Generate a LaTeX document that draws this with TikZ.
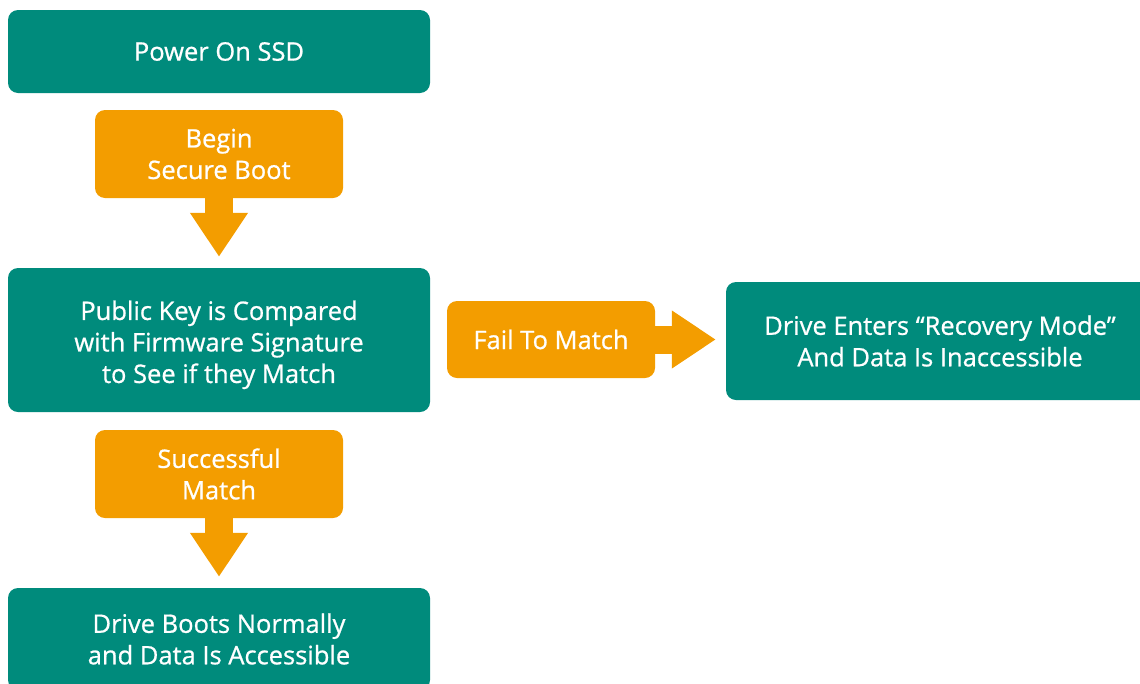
\documentclass[tikz,border=0pt]{standalone}
\usepackage{fontspec}
\setmainfont[FakeBold=0.8]{Open Sans}
\usetikzlibrary{arrows.meta}

\definecolor{bootteal}{RGB}{0,139,124}
\definecolor{bootorange}{RGB}{243,157,0}

\tikzset{
  stage/.style={fill=bootteal, text=white, rounded corners=10pt, inner sep=0pt,
    align=center, minimum width=422pt, font=\fontsize{25.5}{31.5}\selectfont},
  event/.style={fill=bootorange, text=white, rounded corners=10pt, inner sep=0pt,
    align=center, minimum width=248pt, minimum height=88pt, font=\fontsize{25.5}{31.5}\selectfont},
  flow/.style={draw=bootorange, line width=28pt,
    -{Triangle[width=55pt,length=44pt]}, shorten >=11pt}
}

\begin{document}
\begin{tikzpicture}[x=1pt, y=-1pt]
    \useasboundingbox (0,0) rectangle (1140,683);

    % Main boot steps
    \node[stage, minimum height=83pt] (power) at (219,51.5) {Power On SSD};
    \node[stage, minimum height=144pt] (compare) at (219,340)
        {\rule{0pt}{29pt}Public Key is Compared\\with Firmware Signature\\to See if they Match};
    \node[stage, minimum height=102pt] (normal) at (219,639)
        {Drive Boots Normally\\and Data Is Accessible};
    \node[stage, minimum width=428pt, minimum height=118pt] (recovery) at (940,341)
        {Drive Enters ``Recovery Mode''\\And Data Is Inaccessible};

    % Outcome labels
    \node[event] (secure) at (219,154) {Begin\\Secure Boot};
    \node[event] (success) at (219,474) {Successful\\Match};
    \node[event, minimum width=208pt, minimum height=77pt] (fail) at (551,339.5) {Fail To Match};

    % Block arrows
    \draw[flow] (secure.south) -- (compare.north);
    \draw[flow] (success.south) -- (normal.north);
    \draw[flow, shorten >=10pt] (fail.east) -- (fail.east -| recovery.west);
\end{tikzpicture}
\end{document}
